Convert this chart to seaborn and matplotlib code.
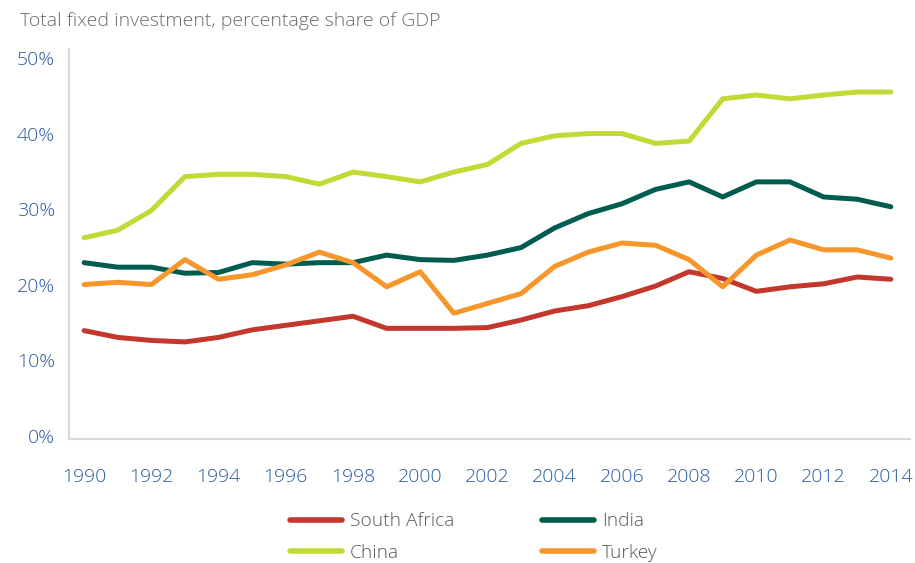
import matplotlib
matplotlib.use("Agg")
import matplotlib.pyplot as plt
import matplotlib.ticker as tkr
import pandas as pd
import seaborn as sns

sns.set_style("white")
plt.rcParams['font.family'] = ['Open Sans', 'DejaVu Sans']
plt.rcParams['font.weight'] = 'light'

years = list(range(1990, 2015))

south_africa = [13.9, 13.0, 12.6, 12.4, 13.0, 14.0, 14.6, 15.2, 15.8, 14.2, 14.2, 14.2,
                14.3, 15.3, 16.5, 17.2, 18.4, 19.8, 21.7, 20.8, 19.1, 19.7, 20.1, 21.0, 20.7]
india = [22.9, 22.3, 22.3, 21.5, 21.6, 22.9, 22.7, 22.9, 22.9, 23.9, 23.3, 23.2,
         23.9, 24.9, 27.5, 29.4, 30.7, 32.6, 33.6, 31.6, 33.6, 33.6, 31.6, 31.3, 30.3]
china = [26.2, 27.2, 29.8, 34.3, 34.6, 34.6, 34.3, 33.3, 34.9, 34.3, 33.6, 34.9,
         35.9, 38.7, 39.7, 40.0, 40.0, 38.7, 39.0, 44.6, 45.1, 44.6, 45.1, 45.5, 45.5]
turkey = [20.0, 20.3, 20.0, 23.3, 20.7, 21.3, 22.6, 24.3, 22.9, 19.7, 21.7, 16.2,
          17.5, 18.8, 22.4, 24.3, 25.5, 25.2, 23.3, 19.7, 23.9, 25.9, 24.6, 24.6, 23.5]

series = {"South Africa": south_africa, "India": india, "China": china, "Turkey": turkey}
colors = {"South Africa": "#c4372c", "India": "#005c4e", "China": "#c3d936", "Turkey": "#f7962a"}

df = pd.concat([pd.DataFrame({"Year": years, "Share": vals, "Country": name})
                for name, vals in series.items()], ignore_index=True)

fig = plt.figure(figsize=(9.15, 5.63), dpi=100)
ax = fig.add_axes([0.0754, 0.2202, 0.9191, 0.6928])

sns.lineplot(data=df, x="Year", y="Share", hue="Country", palette=colors,
             linewidth=3.6, ax=ax, legend=False)
for line in ax.lines:
    line.set_solid_capstyle("round")
    line.set_solid_joinstyle("round")

ax.set_xlim(1989.55, 2014.57)
ax.set_ylim(-0.46, 51.2)
ax.set_xticks(range(1990, 2015, 2))
ax.set_yticks(range(0, 51, 10))
ax.yaxis.set_major_formatter(tkr.FuncFormatter(lambda v, p: "{:d}%".format(int(v))))
ax.set_xlabel("")
ax.set_ylabel("")

tick_color = "#2a5a9e"
ax.tick_params(axis="x", length=0, pad=21, labelsize=14, labelcolor=tick_color)
ax.tick_params(axis="y", length=0, pad=10, labelsize=14, labelcolor=tick_color)

for side in ["top", "right"]:
    ax.spines[side].set_visible(False)
for side in ["left", "bottom"]:
    ax.spines[side].set_color("#d9d9d9")
    ax.spines[side].set_linewidth(1.5)

fig.text(0.022, 0.963, "Total fixed investment, percentage share of GDP",
         fontsize=14, color="#6b6b6b", va="center", ha="left")

order = ["South Africa", "China", "India", "Turkey"]
handles = [plt.Line2D([0], [0], color=colors[n], lw=4.0, solid_capstyle="round") for n in order]
leg = fig.legend(handles, order, ncol=2, loc="center", bbox_to_anchor=(0.518, 0.046),
                 frameon=False, fontsize=13.8, handlelength=2.7, handletextpad=0.4,
                 columnspacing=4.6, labelspacing=0.7)
for t in leg.get_texts():
    t.set_color("#595959")

fig.savefig("out.png", dpi=100)
